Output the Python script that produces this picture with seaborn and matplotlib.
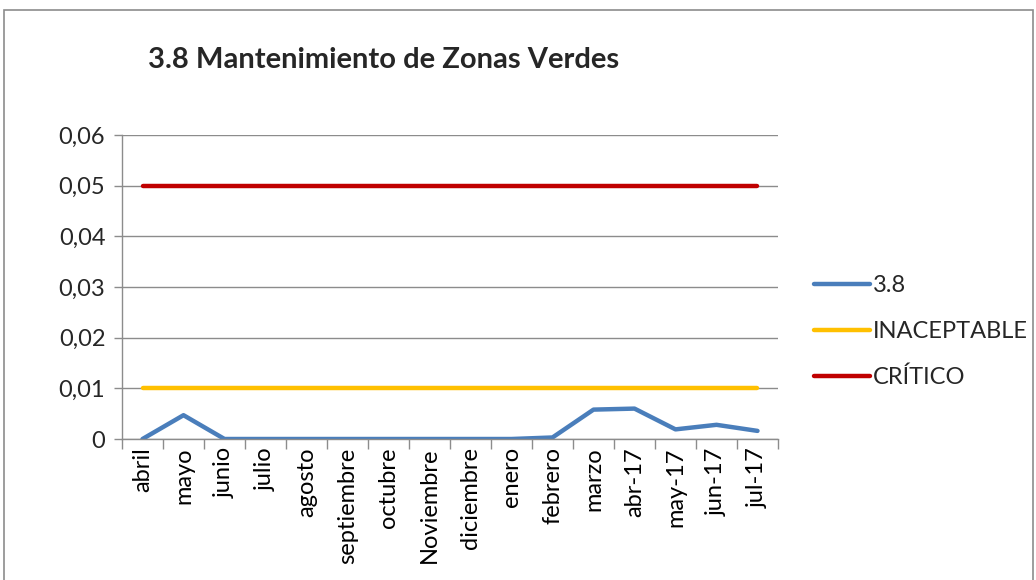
import matplotlib
matplotlib.use("Agg")
import matplotlib.pyplot as plt
import seaborn as sns
import pandas as pd
from matplotlib.patches import Rectangle
from matplotlib.ticker import FixedLocator, NullFormatter

months = ["abril", "mayo", "junio", "julio", "agosto", "septiembre", "octubre",
          "Noviembre", "diciembre", "enero", "febrero", "marzo", "abr-17",
          "may-17", "jun-17", "jul-17"]
serie_38 = [0.0, 0.0047, 0.0, 0.0, 0.0, 0.0, 0.0, 0.0, 0.0, 0.0, 0.0003,
            0.0058, 0.006, 0.0019, 0.0028, 0.0016]
inaceptable = [0.01] * 16
critico = [0.05] * 16
yticks = [0, 0.01, 0.02, 0.03, 0.04, 0.05, 0.06]
ytick_labels = ["0", "0,01", "0,02", "0,03", "0,04", "0,05", "0,06"]

sns.set_theme(style="white")
plt.rcParams['font.family'] = ['Lato', 'DejaVu Sans']

df = pd.DataFrame({
    "x": list(range(16)) * 3,
    "y": serie_38 + inaceptable + critico,
    "serie": ["3.8"] * 16 + ["INACEPTABLE"] * 16 + ["CRÍTICO"] * 16,
})
palette = {"3.8": "#4A7EBB", "INACEPTABLE": "#FFC000", "CRÍTICO": "#C00000"}

fig = plt.figure(figsize=(10.36, 5.8), dpi=100)
fig.patch.set_facecolor("white")
fig.add_artist(Rectangle((4 / 1036, -0.1), 1029 / 1036, 1.1 - 10 / 580,
                         transform=fig.transFigure, fill=False,
                         edgecolor="#8C8C8C", linewidth=1.2))
ax = fig.add_axes([122 / 1036, 1 - 439 / 580, 656 / 1036, (439 - 135) / 580])

sns.lineplot(data=df, x="x", y="y", hue="serie", palette=palette, ax=ax,
             linewidth=3.2, solid_capstyle="round", legend=True)

ax.set_xlim(-0.5, 15.5)
ax.set_ylim(0, 0.06)
ax.set_yticks(yticks)
ax.set_yticklabels(ytick_labels, fontsize=17)
ax.set_xticks(range(16))
ax.set_xticklabels(months, rotation=90, fontsize=17)
ax.xaxis.set_minor_locator(FixedLocator([i - 0.5 for i in range(17)]))
ax.xaxis.set_minor_formatter(NullFormatter())
ax.tick_params(axis="x", which="major", length=0, pad=6, colors="black")
ax.tick_params(axis="x", which="minor", length=7, width=1, color="#8C8C8C", bottom=True)
ax.tick_params(axis="y", length=6, width=1, color="#8C8C8C", left=True, pad=6)
ax.grid(axis="y", color="#8C8C8C", linewidth=1)
ax.set_axisbelow(True)
for s in ["top", "right"]:
    ax.spines[s].set_visible(False)
for s in ["left", "bottom"]:
    ax.spines[s].set_color("#8C8C8C")
    ax.spines[s].set_linewidth(1)
ax.set_xlabel("")
ax.set_ylabel("")

leg = ax.legend(loc="upper left", bbox_to_anchor=(1.04, 0.57), frameon=False,
                fontsize=17, handlelength=2.4, handletextpad=0.1, labelspacing=1.05,
                borderaxespad=0)
for h in leg.get_lines():
    h.set_linewidth(3.2)

fig.text(148 / 1036, 1 - 60 / 580, "3.8 Mantenimiento de Zonas Verdes",
         fontsize=21, fontweight="bold", va="center", ha="left")

fig.savefig("out.png", dpi=100)
